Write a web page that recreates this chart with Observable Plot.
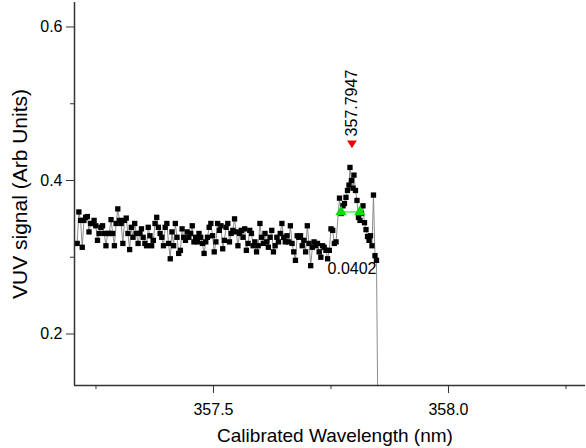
<!DOCTYPE html>
<html><head><meta charset="utf-8">
<script src="https://cdn.jsdelivr.net/npm/d3@7"></script>
<script src="https://cdn.jsdelivr.net/npm/@observablehq/plot@0.6"></script>
<style>body{margin:0;background:#fff}#chart svg{display:block}</style>
</head><body><div id="chart"></div>
<script>
const wavelength = [
357.2100,357.2136,357.2172,357.2208,357.2244,357.2280,357.2316,357.2352,357.2388,357.2424,
357.2460,357.2496,357.2532,357.2568,357.2604,357.2640,357.2676,357.2712,357.2748,357.2784,
357.2820,357.2856,357.2892,357.2928,357.2964,357.3000,357.3036,357.3072,357.3108,357.3144,
357.3180,357.3216,357.3252,357.3288,357.3324,357.3360,357.3396,357.3432,357.3468,357.3504,
357.3540,357.3576,357.3612,357.3648,357.3684,357.3720,357.3756,357.3792,357.3828,357.3864,
357.3900,357.3936,357.3972,357.4008,357.4044,357.4080,357.4116,357.4152,357.4188,357.4224,
357.4260,357.4296,357.4332,357.4368,357.4404,357.4440,357.4476,357.4512,357.4548,357.4584,
357.4620,357.4656,357.4692,357.4728,357.4764,357.4800,357.4836,357.4872,357.4908,357.4944,
357.4980,357.5016,357.5052,357.5088,357.5124,357.5160,357.5196,357.5232,357.5268,357.5304,
357.5340,357.5376,357.5412,357.5448,357.5484,357.5520,357.5556,357.5592,357.5628,357.5664,
357.5700,357.5736,357.5772,357.5808,357.5844,357.5880,357.5916,357.5952,357.5988,357.6024,
357.6060,357.6096,357.6132,357.6168,357.6204,357.6240,357.6276,357.6312,357.6348,357.6384,
357.6420,357.6456,357.6492,357.6528,357.6564,357.6600,357.6636,357.6672,357.6708,357.6744,
357.6780,357.6816,357.6852,357.6888,357.6924,357.6960,357.6996,357.7032,357.7068,357.7104,
357.7140,357.7176,357.7212,357.7248,357.7284,357.7320,357.7356,357.7392,357.7428,357.7464,
357.7500,357.7536,357.7572,357.7608,
357.7681,357.7717,357.7755,357.7787,357.7819,357.7851,357.7883,357.7904,357.7936,357.7968,
357.7989,357.8021,357.8053,357.8085,357.8117,357.8149,357.8181,357.8213,357.8245,357.8277,
357.8309,357.8340,357.8372,357.8404,357.8436,357.8468,357.8511
];
const signal = [
0.318,0.359,0.348,0.313,0.348,0.352,0.353,0.333,0.344,0.344,
0.348,0.341,0.322,0.331,0.339,0.341,0.331,0.315,0.331,0.331,
0.349,0.331,0.315,0.344,0.363,0.348,0.344,0.318,0.348,0.351,
0.331,0.310,0.339,0.326,0.344,0.331,0.318,0.331,0.337,0.326,
0.318,0.315,0.339,0.328,0.315,0.322,0.344,0.352,0.339,0.331,
0.326,0.315,0.339,0.344,0.318,0.298,0.333,0.315,0.344,0.326,
0.305,0.309,0.337,0.326,0.322,0.333,0.326,0.331,0.341,0.320,
0.326,0.320,0.331,0.326,0.318,0.305,0.320,0.326,0.339,0.344,
0.328,0.307,0.320,0.344,0.335,0.341,0.311,0.322,0.339,0.344,
0.320,0.331,0.335,0.350,0.333,0.315,0.331,0.335,0.326,0.337,
0.309,0.318,0.335,0.331,0.315,0.320,0.307,0.315,0.344,0.326,
0.318,0.331,0.320,0.313,0.326,0.335,0.307,0.315,0.326,0.320,
0.331,0.344,0.326,0.320,0.328,0.320,0.341,0.318,0.307,0.296,
0.328,0.326,0.328,0.315,0.322,0.307,0.341,0.318,0.289,0.313,
0.320,0.315,0.318,0.307,0.300,0.315,0.313,0.309,0.298,0.309,
0.337,0.335,0.318,0.320,
0.377,0.357,0.367,0.370,0.378,0.387,0.394,0.417,0.400,0.390,
0.407,0.387,0.374,0.352,0.348,0.357,0.367,0.345,0.336,0.327,
0.322,0.328,0.315,0.381,0.302,0.296,0.000
];
const xMajorTicks = [357.5, 358.0];
const xMinorTicks = [357.25, 357.75, 358.25];
const yMajorTicks = [0.2, 0.4, 0.6];
const yMinorTicks = [0.3, 0.5];
const xDomain = [357.2043, 358.2915];
const yDomain = [0.1329, 0.6319];
const peakWavelength = [357.7947];
const peakSignal = [0.447];
const peakLabel = ["357.7947"];
const fwhmWavelength = [357.7713, 357.8113];
const fwhmSignal = [0.359, 0.359];
const fwhmLabel = ["0.0402"];
const fwhmLabelWavelength = [357.8468];
const fwhmLabelSignal = [0.2853];
const xTitle = "Calibrated Wavelength (nm)";
const yTitle = "VUV signal (Arb Units)";

const data = wavelength.map((w, i) => ({w, s: signal[i]}));
const peak = peakWavelength.map((w, i) => ({w, s: peakSignal[i], t: peakLabel[i]}));
const fwhm = fwhmWavelength.map((w, i) => ({w, s: fwhmSignal[i]}));
const fwhmText = fwhmLabel.map((t, i) => ({w: fwhmLabelWavelength[i], s: fwhmLabelSignal[i], t}));

const triangleDown = {
  draw(context, size) {
    const s = Math.sqrt(size) * 0.65;
    context.moveTo(-s, -s * 0.8);
    context.lineTo(s, -s * 0.8);
    context.lineTo(0, s * 0.8);
    context.closePath();
  }
};

const chart = Plot.plot({
  width: 586,
  height: 448,
  marginLeft: 74,
  marginRight: 1,
  marginTop: 2,
  marginBottom: 63,
  style: {fontFamily: "'Liberation Sans', Arial, sans-serif", fontSize: "16px", background: "#fff", color: "#000"},
  x: {domain: xDomain},
  y: {domain: yDomain},
  marks: [
    Plot.line(data, {x: "w", y: "s", stroke: "#808080", strokeWidth: 0.9, clip: true}),
    Plot.dot(data, {x: "w", y: "s", symbol: "square", r: 3, fill: "#000", stroke: null, clip: true}),
    Plot.line(fwhm, {x: "w", y: "s", stroke: "#00e000", strokeWidth: 1}),
    Plot.dot(fwhm, {x: "w", y: "s", symbol: "triangle", r: 4.2, fill: "#00e000", stroke: null}),
    Plot.dot(peak, {x: "w", y: "s", symbol: triangleDown, r: 4.2, fill: "#f00000", stroke: null}),
    Plot.text(peak, {x: "w", y: "s", text: "t", rotate: -90, textAnchor: "start", dy: -8, fontSize: 16}),
    Plot.text(fwhmText, {x: "w", y: "s", text: "t", textAnchor: "end", fontSize: 16}),
    Plot.ruleX([xDomain[0]], {stroke: "#333", strokeWidth: 1.5}),
    Plot.ruleY([yDomain[0]], {stroke: "#333", strokeWidth: 1.5}),
    Plot.axisX(xMajorTicks, {tickSize: 8, tickPadding: 10, fontSize: 16, tickFormat: d => d.toFixed(1), label: null, stroke: "#333"}),
    Plot.axisX(xMinorTicks, {tickSize: 4, tickFormat: () => "", label: null, stroke: "#333"}),
    Plot.axisY(yMajorTicks, {tickSize: 8, tickPadding: 4, fontSize: 16, tickFormat: d => d.toFixed(1), label: null, stroke: "#333"}),
    Plot.axisY(yMinorTicks, {tickSize: 4, tickFormat: () => "", label: null, stroke: "#333"}),
    Plot.text([xTitle], {frameAnchor: "bottom", textAnchor: "middle", dx: 5, dy: 50, fontSize: 19, lineAnchor: "middle"}),
    Plot.text([yTitle], {frameAnchor: "left", textAnchor: "middle", rotate: -90, dx: -54, fontSize: 21, lineAnchor: "middle"})
  ]
});
document.getElementById("chart").appendChild(chart);
</script>
</body></html>
